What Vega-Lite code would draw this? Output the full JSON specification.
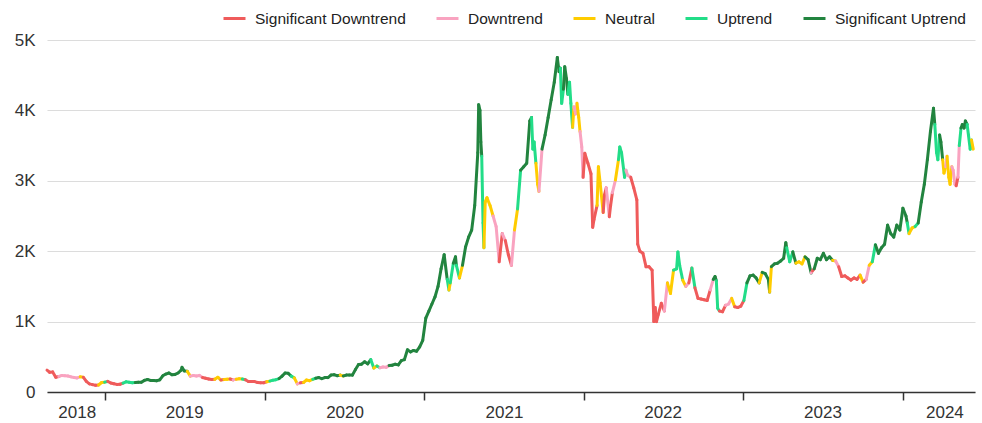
{
  "$schema": "https://vega.github.io/schema/vega-lite/v6.json",
  "width": 928,
  "height": 352,
  "autosize": {"type": "none"},
  "padding": {"left": 47, "top": 40, "right": 7, "bottom": 31},
  "config": {"view": {"stroke": null}, "font": "Liberation Sans"},
  "resolve": {"scale": {"x": "independent"}, "axis": {"x": "independent"}},
  "layer": [
    {
      "data": {"values": [
        {"d":"2018-08-21","p":310,"t":"SD"},{"d":"2018-08-27","p":280,"t":"SD"},{"d":"2018-09-03","p":285,"t":"SD"},{"d":"2018-09-10","p":210,"t":"SD"},
        {"d":"2018-09-17","p":220,"t":"D"},{"d":"2018-09-24","p":235,"t":"D"},{"d":"2018-10-01","p":232,"t":"D"},{"d":"2018-10-08","p":228,"t":"D"},
        {"d":"2018-10-15","p":215,"t":"D"},{"d":"2018-10-22","p":205,"t":"D"},{"d":"2018-10-29","p":200,"t":"D"},{"d":"2018-11-05","p":215,"t":"N"},
        {"d":"2018-11-12","p":210,"t":"SD"},{"d":"2018-11-19","p":150,"t":"SD"},{"d":"2018-11-26","p":115,"t":"SD"},{"d":"2018-12-03","p":105,"t":"SD"},
        {"d":"2018-12-10","p":95,"t":"SD"},{"d":"2018-12-17","p":100,"t":"N"},{"d":"2018-12-24","p":135,"t":"N"},{"d":"2018-12-31","p":140,"t":"U"},
        {"d":"2019-01-07","p":150,"t":"SD"},{"d":"2019-01-14","p":128,"t":"SD"},{"d":"2019-01-21","p":118,"t":"SD"},{"d":"2019-01-28","p":108,"t":"SD"},
        {"d":"2019-02-04","p":110,"t":"SD"},{"d":"2019-02-11","p":125,"t":"U"},{"d":"2019-02-18","p":145,"t":"U"},{"d":"2019-02-25","p":138,"t":"U"},
        {"d":"2019-03-04","p":132,"t":"U"},{"d":"2019-03-11","p":135,"t":"SU"},{"d":"2019-03-18","p":140,"t":"SU"},{"d":"2019-03-25","p":138,"t":"SU"},
        {"d":"2019-04-01","p":165,"t":"SU"},{"d":"2019-04-08","p":178,"t":"SU"},{"d":"2019-04-15","p":165,"t":"SU"},{"d":"2019-04-22","p":162,"t":"SU"},
        {"d":"2019-04-29","p":160,"t":"SU"},{"d":"2019-05-06","p":172,"t":"SU"},{"d":"2019-05-13","p":230,"t":"SU"},{"d":"2019-05-20","p":255,"t":"SU"},
        {"d":"2019-05-27","p":270,"t":"SU"},{"d":"2019-06-03","p":245,"t":"SU"},{"d":"2019-06-10","p":250,"t":"SU"},{"d":"2019-06-17","p":270,"t":"SU"},
        {"d":"2019-06-24","p":310,"t":"SU"},{"d":"2019-06-26","p":350,"t":"SU"},{"d":"2019-07-01","p":300,"t":"SU"},{"d":"2019-07-08","p":295,"t":"N"},
        {"d":"2019-07-15","p":225,"t":"D"},{"d":"2019-07-22","p":235,"t":"D"},{"d":"2019-07-29","p":228,"t":"D"},{"d":"2019-08-05","p":235,"t":"D"},
        {"d":"2019-08-12","p":205,"t":"SD"},{"d":"2019-08-19","p":195,"t":"SD"},{"d":"2019-08-26","p":185,"t":"SD"},{"d":"2019-09-02","p":178,"t":"SD"},
        {"d":"2019-09-09","p":180,"t":"N"},{"d":"2019-09-16","p":210,"t":"N"},{"d":"2019-09-23","p":170,"t":"SD"},{"d":"2019-09-30","p":178,"t":"N"},
        {"d":"2019-10-07","p":180,"t":"N"},{"d":"2019-10-14","p":185,"t":"SD"},{"d":"2019-10-21","p":172,"t":"D"},{"d":"2019-10-28","p":180,"t":"N"},
        {"d":"2019-11-04","p":188,"t":"N"},{"d":"2019-11-11","p":185,"t":"U"},{"d":"2019-11-18","p":175,"t":"SD"},{"d":"2019-11-25","p":150,"t":"SD"},
        {"d":"2019-12-02","p":148,"t":"SD"},{"d":"2019-12-09","p":148,"t":"SD"},{"d":"2019-12-16","p":135,"t":"SD"},{"d":"2019-12-23","p":130,"t":"SD"},
        {"d":"2019-12-30","p":132,"t":"SD"},{"d":"2020-01-06","p":145,"t":"N"},{"d":"2020-01-13","p":155,"t":"U"},{"d":"2020-01-20","p":168,"t":"U"},
        {"d":"2020-01-27","p":175,"t":"U"},{"d":"2020-02-03","p":190,"t":"SU"},{"d":"2020-02-10","p":225,"t":"SU"},{"d":"2020-02-17","p":270,"t":"SU"},
        {"d":"2020-02-24","p":265,"t":"SU"},{"d":"2020-03-02","p":225,"t":"U"},{"d":"2020-03-09","p":200,"t":"N"},{"d":"2020-03-16","p":115,"t":"D"},
        {"d":"2020-03-23","p":130,"t":"SD"},{"d":"2020-03-30","p":135,"t":"N"},{"d":"2020-04-06","p":170,"t":"N"},{"d":"2020-04-13","p":160,"t":"N"},
        {"d":"2020-04-20","p":180,"t":"U"},{"d":"2020-04-27","p":195,"t":"SU"},{"d":"2020-05-04","p":205,"t":"SU"},{"d":"2020-05-11","p":190,"t":"SU"},
        {"d":"2020-05-18","p":205,"t":"SU"},{"d":"2020-05-25","p":205,"t":"SU"},{"d":"2020-06-01","p":240,"t":"SU"},{"d":"2020-06-08","p":245,"t":"SU"},
        {"d":"2020-06-15","p":232,"t":"SU"},{"d":"2020-06-22","p":240,"t":"N"},{"d":"2020-06-29","p":228,"t":"SU"},{"d":"2020-07-06","p":240,"t":"SU"},
        {"d":"2020-07-13","p":240,"t":"SU"},{"d":"2020-07-20","p":240,"t":"SU"},{"d":"2020-07-27","p":320,"t":"SU"},{"d":"2020-08-03","p":390,"t":"SU"},
        {"d":"2020-08-10","p":395,"t":"SU"},{"d":"2020-08-17","p":430,"t":"SU"},{"d":"2020-08-24","p":400,"t":"SU"},{"d":"2020-08-31","p":460,"t":"U"},
        {"d":"2020-09-07","p":340,"t":"N"},{"d":"2020-09-14","p":370,"t":"U"},{"d":"2020-09-21","p":345,"t":"D"},{"d":"2020-09-28","p":355,"t":"D"},
        {"d":"2020-10-05","p":350,"t":"D"},{"d":"2020-10-12","p":375,"t":"SU"},{"d":"2020-10-19","p":380,"t":"SU"},{"d":"2020-10-26","p":395,"t":"SU"},
        {"d":"2020-11-02","p":385,"t":"SU"},{"d":"2020-11-09","p":445,"t":"SU"},{"d":"2020-11-16","p":460,"t":"SU"},{"d":"2020-11-23","p":600,"t":"SU"},
        {"d":"2020-11-30","p":570,"t":"SU"},{"d":"2020-12-07","p":590,"t":"SU"},{"d":"2020-12-14","p":580,"t":"SU"},{"d":"2020-12-21","p":640,"t":"SU"},
        {"d":"2020-12-28","p":735,"t":"SU"},{"d":"2021-01-04","p":1050,"t":"SU"},{"d":"2021-01-11","p":1150,"t":"SU"},{"d":"2021-01-18","p":1250,"t":"SU"},
        {"d":"2021-01-25","p":1350,"t":"SU"},{"d":"2021-02-01","p":1500,"t":"SU"},{"d":"2021-02-08","p":1750,"t":"SU"},{"d":"2021-02-15","p":1950,"t":"SU"},
        {"d":"2021-02-22","p":1600,"t":"U"},{"d":"2021-02-26","p":1450,"t":"N"},{"d":"2021-03-01","p":1550,"t":"U"},{"d":"2021-03-08","p":1830,"t":"SU"},
        {"d":"2021-03-13","p":1920,"t":"SU"},{"d":"2021-03-15","p":1800,"t":"U"},{"d":"2021-03-22","p":1620,"t":"N"},{"d":"2021-03-29","p":1800,"t":"SU"},
        {"d":"2021-04-05","p":2060,"t":"SU"},{"d":"2021-04-12","p":2200,"t":"SU"},{"d":"2021-04-19","p":2300,"t":"SU"},{"d":"2021-04-26","p":2650,"t":"SU"},
        {"d":"2021-05-03","p":3400,"t":"SU"},{"d":"2021-05-05","p":4080,"t":"SU"},{"d":"2021-05-08","p":4000,"t":"SU"},{"d":"2021-05-10","p":3550,"t":"SU"},
        {"d":"2021-05-12","p":3350,"t":"U"},{"d":"2021-05-15","p":2400,"t":"U"},{"d":"2021-05-17","p":2050,"t":"N"},{"d":"2021-05-20","p":2700,"t":"N"},
        {"d":"2021-05-24","p":2760,"t":"N"},{"d":"2021-05-31","p":2650,"t":"N"},{"d":"2021-06-07","p":2500,"t":"D"},{"d":"2021-06-14","p":2350,"t":"D"},
        {"d":"2021-06-21","p":1850,"t":"SD"},{"d":"2021-06-28","p":2250,"t":"D"},{"d":"2021-07-05","p":2150,"t":"SD"},{"d":"2021-07-12","p":1950,"t":"SD"},
        {"d":"2021-07-19","p":1800,"t":"D"},{"d":"2021-07-26","p":2300,"t":"N"},{"d":"2021-08-02","p":2600,"t":"U"},{"d":"2021-08-09","p":3150,"t":"SU"},
        {"d":"2021-08-16","p":3200,"t":"SU"},{"d":"2021-08-23","p":3250,"t":"SU"},{"d":"2021-08-30","p":3850,"t":"SU"},{"d":"2021-09-03","p":3900,"t":"U"},
        {"d":"2021-09-06","p":3450,"t":"U"},{"d":"2021-09-09","p":3550,"t":"U"},{"d":"2021-09-13","p":3250,"t":"N"},{"d":"2021-09-17","p":2950,"t":"N"},
        {"d":"2021-09-20","p":2850,"t":"D"},{"d":"2021-09-27","p":3450,"t":"SU"},{"d":"2021-10-04","p":3650,"t":"SU"},{"d":"2021-10-11","p":3900,"t":"SU"},
        {"d":"2021-10-18","p":4150,"t":"SU"},{"d":"2021-10-25","p":4400,"t":"SU"},{"d":"2021-11-01","p":4750,"t":"SU"},{"d":"2021-11-05","p":4550,"t":"SU"},
        {"d":"2021-11-08","p":4600,"t":"U"},{"d":"2021-11-11","p":4100,"t":"U"},{"d":"2021-11-15","p":4300,"t":"SU"},{"d":"2021-11-18","p":4620,"t":"SU"},
        {"d":"2021-11-22","p":4450,"t":"SU"},{"d":"2021-11-25","p":4230,"t":"U"},{"d":"2021-11-29","p":4400,"t":"U"},{"d":"2021-12-02","p":4100,"t":"U"},
        {"d":"2021-12-06","p":3760,"t":"N"},{"d":"2021-12-09","p":4050,"t":"D"},{"d":"2021-12-13","p":3950,"t":"D"},{"d":"2021-12-16","p":4100,"t":"N"},
        {"d":"2021-12-20","p":3900,"t":"N"},{"d":"2021-12-23","p":3700,"t":"D"},{"d":"2021-12-27","p":3480,"t":"D"},{"d":"2021-12-30","p":3050,"t":"SD"},
        {"d":"2022-01-03","p":3390,"t":"SD"},{"d":"2022-01-10","p":3250,"t":"SD"},{"d":"2022-01-17","p":3100,"t":"SD"},{"d":"2022-01-21","p":2340,"t":"SD"},
        {"d":"2022-01-24","p":2450,"t":"SD"},{"d":"2022-01-31","p":2650,"t":"N"},{"d":"2022-02-03","p":3200,"t":"N"},{"d":"2022-02-07","p":2970,"t":"N"},
        {"d":"2022-02-14","p":2550,"t":"SD"},{"d":"2022-02-17","p":2800,"t":"SD"},{"d":"2022-02-21","p":2900,"t":"D"},{"d":"2022-02-28","p":2490,"t":"SD"},
        {"d":"2022-03-03","p":2650,"t":"SD"},{"d":"2022-03-07","p":2830,"t":"D"},{"d":"2022-03-14","p":3010,"t":"N"},{"d":"2022-03-21","p":3300,"t":"U"},
        {"d":"2022-03-24","p":3480,"t":"U"},{"d":"2022-03-28","p":3400,"t":"U"},{"d":"2022-04-04","p":3050,"t":"U"},{"d":"2022-04-07","p":3150,"t":"D"},
        {"d":"2022-04-11","p":3080,"t":"D"},{"d":"2022-04-18","p":3050,"t":"SD"},{"d":"2022-04-25","p":2900,"t":"SD"},{"d":"2022-05-02","p":2730,"t":"SD"},
        {"d":"2022-05-04","p":2100,"t":"SD"},{"d":"2022-05-09","p":2000,"t":"SD"},{"d":"2022-05-16","p":1970,"t":"SD"},{"d":"2022-05-23","p":1780,"t":"SD"},
        {"d":"2022-05-30","p":1780,"t":"SD"},{"d":"2022-06-06","p":1730,"t":"SD"},{"d":"2022-06-10","p":1000,"t":"SD"},{"d":"2022-06-13","p":1200,"t":"SD"},
        {"d":"2022-06-16","p":1000,"t":"SD"},{"d":"2022-06-20","p":1100,"t":"SD"},{"d":"2022-06-27","p":1260,"t":"SD"},{"d":"2022-07-04","p":1150,"t":"D"},
        {"d":"2022-07-11","p":1550,"t":"N"},{"d":"2022-07-18","p":1400,"t":"N"},{"d":"2022-07-25","p":1730,"t":"U"},{"d":"2022-08-01","p":1750,"t":"U"},
        {"d":"2022-08-04","p":1990,"t":"U"},{"d":"2022-08-08","p":1800,"t":"U"},{"d":"2022-08-15","p":1590,"t":"N"},{"d":"2022-08-22","p":1500,"t":"D"},
        {"d":"2022-08-29","p":1550,"t":"SD"},{"d":"2022-09-05","p":1760,"t":"U"},{"d":"2022-09-12","p":1480,"t":"SD"},{"d":"2022-09-19","p":1330,"t":"SD"},
        {"d":"2022-09-26","p":1320,"t":"SD"},{"d":"2022-10-03","p":1310,"t":"SD"},{"d":"2022-10-10","p":1300,"t":"SD"},{"d":"2022-10-17","p":1450,"t":"D"},
        {"d":"2022-10-24","p":1600,"t":"SU"},{"d":"2022-10-28","p":1640,"t":"SU"},{"d":"2022-10-31","p":1580,"t":"U"},{"d":"2022-11-03","p":1190,"t":"U"},
        {"d":"2022-11-07","p":1150,"t":"SD"},{"d":"2022-11-14","p":1140,"t":"SD"},{"d":"2022-11-21","p":1230,"t":"D"},{"d":"2022-11-28","p":1250,"t":"D"},
        {"d":"2022-12-05","p":1330,"t":"N"},{"d":"2022-12-12","p":1210,"t":"SD"},{"d":"2022-12-19","p":1200,"t":"SD"},{"d":"2022-12-26","p":1220,"t":"SD"},
        {"d":"2023-01-02","p":1300,"t":"U"},{"d":"2023-01-09","p":1550,"t":"SU"},{"d":"2023-01-16","p":1650,"t":"SU"},{"d":"2023-01-23","p":1660,"t":"SU"},
        {"d":"2023-01-30","p":1620,"t":"SU"},{"d":"2023-02-06","p":1550,"t":"N"},{"d":"2023-02-13","p":1700,"t":"SU"},{"d":"2023-02-20","p":1680,"t":"SU"},
        {"d":"2023-02-27","p":1600,"t":"SU"},{"d":"2023-03-02","p":1420,"t":"N"},{"d":"2023-03-06","p":1780,"t":"SU"},{"d":"2023-03-13","p":1820,"t":"SU"},
        {"d":"2023-03-20","p":1830,"t":"SU"},{"d":"2023-03-27","p":1860,"t":"SU"},{"d":"2023-04-03","p":1900,"t":"SU"},{"d":"2023-04-08","p":2120,"t":"SU"},
        {"d":"2023-04-10","p":2050,"t":"U"},{"d":"2023-04-17","p":1850,"t":"U"},{"d":"2023-04-24","p":1990,"t":"SU"},{"d":"2023-05-01","p":1830,"t":"N"},
        {"d":"2023-05-08","p":1850,"t":"N"},{"d":"2023-05-15","p":1820,"t":"N"},{"d":"2023-05-22","p":1920,"t":"SU"},{"d":"2023-05-29","p":1880,"t":"SU"},
        {"d":"2023-06-05","p":1690,"t":"D"},{"d":"2023-06-08","p":1720,"t":"SD"},{"d":"2023-06-12","p":1750,"t":"SU"},{"d":"2023-06-19","p":1900,"t":"SU"},
        {"d":"2023-06-26","p":1880,"t":"SU"},{"d":"2023-07-03","p":1970,"t":"SU"},{"d":"2023-07-10","p":1880,"t":"SU"},{"d":"2023-07-17","p":1920,"t":"SU"},
        {"d":"2023-07-24","p":1870,"t":"N"},{"d":"2023-07-31","p":1860,"t":"D"},{"d":"2023-08-07","p":1780,"t":"SD"},{"d":"2023-08-14","p":1640,"t":"SD"},
        {"d":"2023-08-21","p":1650,"t":"SD"},{"d":"2023-08-28","p":1620,"t":"SD"},{"d":"2023-09-04","p":1590,"t":"SD"},{"d":"2023-09-11","p":1620,"t":"SD"},
        {"d":"2023-09-18","p":1600,"t":"SD"},{"d":"2023-09-25","p":1660,"t":"N"},{"d":"2023-10-02","p":1560,"t":"SD"},{"d":"2023-10-09","p":1600,"t":"D"},
        {"d":"2023-10-16","p":1800,"t":"N"},{"d":"2023-10-23","p":1850,"t":"U"},{"d":"2023-10-30","p":2090,"t":"SU"},{"d":"2023-11-06","p":1970,"t":"SU"},
        {"d":"2023-11-13","p":2050,"t":"SU"},{"d":"2023-11-20","p":2100,"t":"SU"},{"d":"2023-11-27","p":2370,"t":"SU"},{"d":"2023-12-04","p":2250,"t":"SU"},
        {"d":"2023-12-11","p":2200,"t":"SU"},{"d":"2023-12-18","p":2370,"t":"SU"},{"d":"2023-12-25","p":2300,"t":"SU"},{"d":"2024-01-01","p":2610,"t":"SU"},
        {"d":"2024-01-08","p":2500,"t":"SU"},{"d":"2024-01-11","p":2400,"t":"U"},{"d":"2024-01-15","p":2250,"t":"N"},{"d":"2024-01-22","p":2330,"t":"N"},
        {"d":"2024-01-29","p":2350,"t":"U"},{"d":"2024-02-05","p":2400,"t":"SU"},{"d":"2024-02-12","p":2700,"t":"SU"},{"d":"2024-02-19","p":2950,"t":"SU"},
        {"d":"2024-02-26","p":3300,"t":"SU"},{"d":"2024-03-04","p":3700,"t":"SU"},{"d":"2024-03-11","p":4030,"t":"SU"},{"d":"2024-03-14","p":3800,"t":"U"},
        {"d":"2024-03-18","p":3400,"t":"U"},{"d":"2024-03-21","p":3300,"t":"U"},{"d":"2024-03-25","p":3650,"t":"SU"},{"d":"2024-03-28","p":3550,"t":"SU"},
        {"d":"2024-04-01","p":3300,"t":"N"},{"d":"2024-04-04","p":3110,"t":"N"},{"d":"2024-04-08","p":3200,"t":"D"},{"d":"2024-04-11","p":3350,"t":"N"},
        {"d":"2024-04-15","p":3050,"t":"N"},{"d":"2024-04-18","p":2950,"t":"N"},{"d":"2024-04-22","p":3200,"t":"D"},{"d":"2024-04-25","p":3150,"t":"D"},
        {"d":"2024-04-29","p":2950,"t":"D"},{"d":"2024-05-02","p":2930,"t":"SD"},{"d":"2024-05-06","p":3050,"t":"D"},{"d":"2024-05-09","p":3500,"t":"U"},
        {"d":"2024-05-13","p":3750,"t":"SU"},{"d":"2024-05-16","p":3800,"t":"SU"},{"d":"2024-05-20","p":3750,"t":"SU"},{"d":"2024-05-23","p":3850,"t":"SU"},
        {"d":"2024-05-27","p":3800,"t":"U"},{"d":"2024-05-30","p":3650,"t":"U"},{"d":"2024-06-03","p":3450,"t":"U"},{"d":"2024-06-06","p":3580,"t":"N"},
        {"d":"2024-06-10","p":3450,"t":"N"}
      ]},
      "transform": [
        {"window": [{"op": "lead", "field": "d", "as": "d2"}, {"op": "lead", "field": "p", "as": "p2"}], "sort": [{"field": "d"}]},
        {"filter": "datum.d2 != null"}
      ],
      "mark": {"type": "rule", "strokeWidth": 3, "strokeCap": "round"},
      "encoding": {
        "x": {"field": "d", "type": "temporal",
          "scale": {"domain": [{"year": 2018, "month": 8, "date": 21}, {"year": 2024, "month": 6, "date": 14}]},
          "axis": {"orient": "bottom", "title": null, "labels": false, "grid": false, "domainColor": "#333", "domainWidth": 1.5, "tickColor": "#333", "tickWidth": 1.5, "tickSize": 8,
            "values": [{"year": 2019, "month": 1, "date": 1}, {"year": 2020, "month": 1, "date": 1}, {"year": 2021, "month": 1, "date": 1}, {"year": 2022, "month": 1, "date": 1}, {"year": 2023, "month": 1, "date": 1}, {"year": 2024, "month": 1, "date": 1}]}},
        "x2": {"field": "d2"},
        "y": {"field": "p", "type": "quantitative",
          "scale": {"domain": [0, 5000], "nice": false},
          "axis": {"title": null, "values": [0, 1000, 2000, 3000, 4000, 5000], "domain": false, "ticks": false, "grid": true, "gridColor": "#dcdcdc", "gridWidth": 1.2,
            "labelPadding": 12, "labelFontSize": 17, "labelColor": "#333", "labelExpr": "datum.value == 0 ? '0' : (datum.value / 1000) + 'K'"}},
        "y2": {"field": "p2"},
        "color": {"field": "t", "type": "nominal",
          "scale": {"domain": ["SD", "D", "N", "U", "SU"], "range": ["#EF5B5B", "#F9A3C0", "#FFCC00", "#22DD88", "#22843F"]},
          "legend": {"orient": "none", "legendX": 175, "legendY": -34, "direction": "horizontal", "title": null,
            "symbolType": "stroke", "symbolStrokeWidth": 3, "symbolSize": 484, "labelFontSize": 15.5, "labelColor": "#222", "columnPadding": 24, "labelOffset": 8,
            "labelExpr": "datum.label == 'SD' ? 'Significant Downtrend' : datum.label == 'D' ? 'Downtrend' : datum.label == 'N' ? 'Neutral' : datum.label == 'U' ? 'Uptrend' : 'Significant Uptrend'"}}
      }
    },
    {
      "data": {"values": [{"d": "2018-10-28"}, {"d": "2019-07-01"}, {"d": "2020-07-02"}, {"d": "2021-07-02"}, {"d": "2022-06-30"}, {"d": "2023-07-01"}, {"d": "2024-04-05"}]},
      "mark": {"type": "point", "opacity": 0},
      "encoding": {
        "x": {"field": "d", "type": "temporal",
          "scale": {"domain": [{"year": 2018, "month": 8, "date": 21}, {"year": 2024, "month": 6, "date": 14}]},
          "axis": {"orient": "bottom", "title": null, "domain": false, "ticks": false, "grid": false, "format": "%Y", "labelFlush": false, "labelOverlap": false, "labelBound": false,
            "labelPadding": 12, "labelFontSize": 17, "labelColor": "#333",
            "values": [{"year": 2018, "month": 10, "date": 28}, {"year": 2019, "month": 7, "date": 1}, {"year": 2020, "month": 7, "date": 2}, {"year": 2021, "month": 7, "date": 2}, {"year": 2022, "month": 6, "date": 30}, {"year": 2023, "month": 7, "date": 1}, {"year": 2024, "month": 4, "date": 5}]}}
      }
    }
  ]
}
